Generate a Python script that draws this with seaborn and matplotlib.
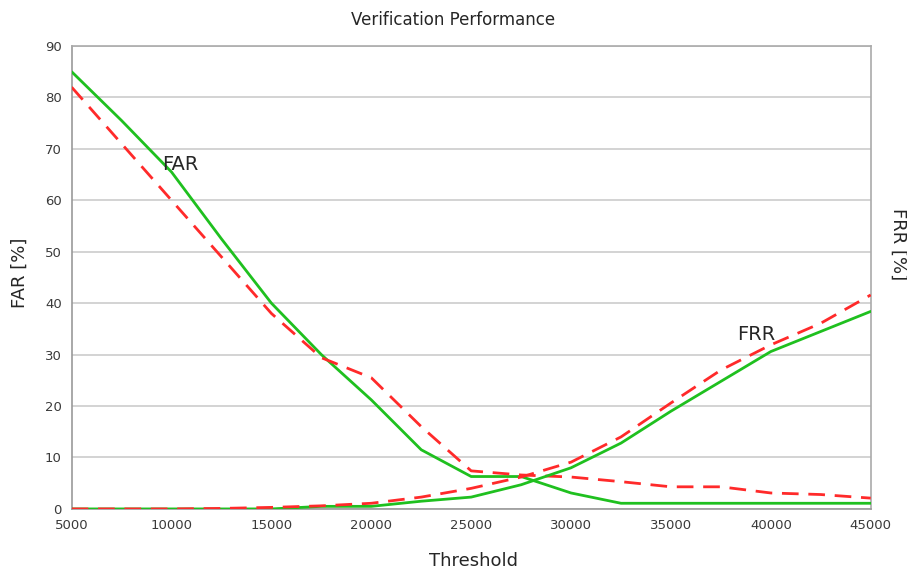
import pandas as pd
import matplotlib.pyplot as plt
import seaborn as sns

# threshold values on the x axis
thresholds = [5000, 7500, 10000, 12500, 15000, 17500, 20000, 22500, 25000,
              27500, 30000, 32500, 35000, 37500, 40000, 42500, 45000]

# FAR / FRR curves (solid green and dashed red)
far_green = [85, 75.5, 65.5, 52.5, 40, 30, 21.2, 11.5, 6.3, 6.3, 3.1, 1.1, 1.1, 1.1, 1.1, 1.1, 1.1]
far_red = [82, 71, 60, 49, 38, 29.4, 25.5, 16, 7.4, 6.6, 6.2, 5.3, 4.3, 4.3, 3.1, 2.8, 2.1]
frr_green = [0, 0, 0, 0, 0, 0.5, 0.5, 1.5, 2.3, 4.7, 8, 12.8, 19, 24.8, 30.6, 34.5, 38.4]
frr_red = [0, 0, 0, 0.1, 0.3, 0.6, 1.1, 2.3, 4.0, 6.2, 9.1, 14, 20.6, 27, 31.9, 36.1, 41.6]

y_ticks = [0, 10, 20, 30, 40, 50, 60, 70, 80, 90]
x_ticks = [5000, 10000, 15000, 20000, 25000, 30000, 35000, 40000, 45000]

GREEN = "#1fc01f"
RED = "#ff2a2a"


def build_frame():
    """ Tüm eğrileri tek bir uzun tabloda toplar. """
    parts = []
    for name, vals, kind in [("FAR_g", far_green, "solid"), ("FAR_r", far_red, "dashed"),
                             ("FRR_g", frr_green, "solid"), ("FRR_r", frr_red, "dashed")]:
        parts.append(pd.DataFrame({"threshold": thresholds, "value": vals,
                                   "curve": name, "kind": kind}))
    return pd.concat(parts, ignore_index=True)


def plot_performance(df):
    sns.set_style("white")
    plt.rcParams["font.family"] = ["DejaVu Sans"]
    fig = plt.figure(figsize=(9.07, 5.68), dpi=100)
    ax = fig.add_axes([0.079, 0.104, 0.881, 0.815])

    palette = {"FAR_g": GREEN, "FAR_r": RED, "FRR_g": GREEN, "FRR_r": RED}
    sns.lineplot(data=df, x="threshold", y="value", hue="curve", style="kind",
                 palette=palette, dashes={"solid": "", "dashed": (6, 3.5)},
                 linewidth=2, legend=False, ax=ax, zorder=3)

    ax.set_xlim(5000, 45000)
    ax.set_ylim(0, 90)
    ax.set_xticks(x_ticks)
    ax.set_yticks(y_ticks)
    ax.yaxis.grid(True, color="#cccccc", linewidth=1.2)
    ax.set_axisbelow(True)
    ax.tick_params(axis="both", labelsize=9.5, colors="#3a3a3a", length=3, direction="out")
    ax.tick_params(axis="x", pad=4)
    ax.tick_params(axis="y", pad=4)
    for side in ["left", "bottom", "right", "top"]:
        ax.spines[side].set_color("#aaaaaa")
        ax.spines[side].set_linewidth(1.2)
    ax.spines["left"].set_color("#999999")
    ax.spines["bottom"].set_color("#999999")

    ax.set_xlabel("")
    ax.set_ylabel("")
    fig.text(0.5, 0.965, "Verification Performance", ha="center", va="center", fontsize=12)
    fig.text(0.522, 0.013, "Threshold", ha="center", va="center", fontsize=13)
    fig.text(0.022, 0.52, "FAR [%]", rotation=90, ha="center", va="center", fontsize=13)
    fig.text(0.99, 0.57, "FRR [%]", rotation=-90, ha="center", va="center", fontsize=13)

    ax.text(9550, 67, "FAR", fontsize=14, ha="left", va="center")
    ax.text(38300, 34, "FRR", fontsize=14, ha="left", va="center")

    fig.savefig("out.png", dpi=100)


if __name__ == "__main__":
    plot_performance(build_frame())
